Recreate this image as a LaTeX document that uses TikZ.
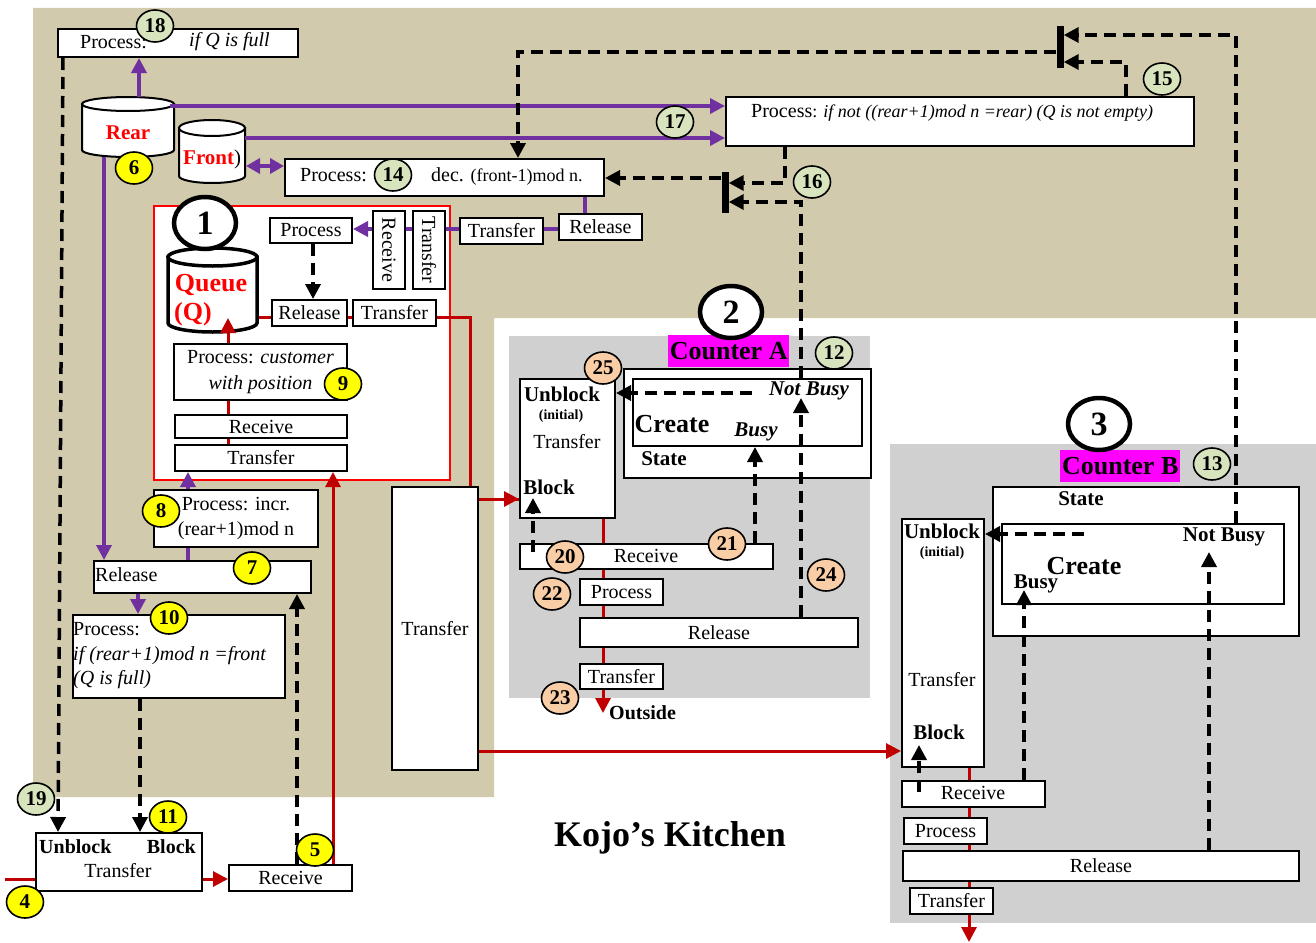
\documentclass[tikz,border=0pt]{standalone}
\usepackage{fontspec}
\setmainfont{Liberation Serif}
\usetikzlibrary{arrows.meta,shapes.geometric,calc}
\pgfdeclarelayer{back}
\pgfdeclarelayer{mid}
\pgfsetlayers{back,mid,main}
\definecolor{tanbg}{HTML}{D2CAAD}
\definecolor{graybg}{HTML}{D0D0D0}
\definecolor{pur}{HTML}{7030A0}
\definecolor{dred}{HTML}{C00000}
\definecolor{ylw}{HTML}{FFFF00}
\definecolor{grn}{HTML}{D7E4BD}
\definecolor{pch}{HTML}{F9CDA5}
\definecolor{mag}{HTML}{FF00FF}
\newcommand\fsz[2]{\fontsize{#1}{#2}\selectfont}
\newcommand\bx[7][]{\node[box,anchor=north west,minimum width={#5-#3},minimum height={#6-#4},#1] (#2) at (#3,#4) {#7};}
\begin{document}
\begin{tikzpicture}[x=1pt,y=-1pt,
 box/.style={draw,line width=2pt,fill=white,inner sep=0pt,font=\fsz{20}{23}},
 txt/.style={inner sep=0pt,font=\fsz{20}{23}},
 btxt/.style={inner sep=0pt,font=\bfseries\fsz{21}{23}},
 badge/.style={ellipse,draw,line width=1.6pt,minimum width=37pt,minimum height=32pt,inner sep=0pt,font=\bfseries\fsz{21}{22}},
 yb/.style={badge,fill=ylw}, gb/.style={badge,fill=grn}, pb/.style={badge,fill=pch},
 bigc/.style={ellipse,draw,line width=4.5pt,fill=white,minimum width=62pt,minimum height=52pt,inner sep=0pt,font=\bfseries\fsz{34}{36}},
 arr/.style={-{Triangle[length=15pt,width=15pt]}},
 dsh/.style={line width=3.5pt,dash pattern=on 12pt off 7pt},
 purl/.style={draw=pur,line width=3.5pt},
 redl/.style={draw=dred,line width=3pt},
 bar/.style={fill=black,minimum width=7pt,inner sep=0pt},
 lab/.style={fill=mag,anchor=north west,inner sep=0pt,font=\bfseries\fsz{26}{28}},
]
\begin{pgfonlayer}{back}
\fill[white] (0,0) rectangle (1316,942);
\fill[tanbg] (33,8) -- (1316,8) -- (1316,318) -- (494,318) -- (494,797) -- (33,797) -- cycle;
\fill[graybg] (509,336) rectangle (870,698);
\fill[graybg] (890,444) rectangle (1316,923);
\end{pgfonlayer}
\useasboundingbox (0,0) rectangle (1316,942);

% coordinates
\coordinate (r1) at (470,317);
\coordinate (r2) at (470,499);
\coordinate (r3) at (477,751);
\coordinate (r4) at (5,879);
\coordinate (r5) at (333,870);
\coordinate (r7) at (603,713);
\coordinate (r8) at (969,942);
\coordinate (qin) at (228,318);
\coordinate (pu1) at (139,97);
\coordinate (pu2) at (170,106);
\coordinate (pu3) at (245,138);
\coordinate (pu4) at (246,166);
\coordinate (pu5) at (104,157);
\coordinate (pu6) at (585,200);
\coordinate (pu7) at (500,229);
\coordinate (pu8) at (188,520);
\coordinate (pu9) at (138,600);
\coordinate (dd1a) at (63,60);
\coordinate (dd1b) at (58,800);
\coordinate (dd2) at (140,760);
\coordinate (dd3) at (297,700);
\coordinate (dd4) at (313,270);
\coordinate (c1) at (1236,35);
\coordinate (c2) at (1126,62);
\coordinate (c3) at (518,52);
\coordinate (c4) at (660,178);
\coordinate (c5) at (785,183);
\coordinate (c6) at (801,202);
\coordinate (nbA) at (801,398);
\coordinate (nbA2) at (752,393);
\coordinate (dA3) at (755,500);
\coordinate (dA4) at (533,552);
\coordinate (dA5) at (533,498);
\coordinate (nbB) at (1209,552);
\coordinate (nbB2) at (1084,534);
\coordinate (dB3) at (1024,590);
\coordinate (dB4) at (919,792);
\coordinate (dB5) at (919,745);

% ---------- top area
\bx{p18}{57}{28}{297}{56}{}
\node[txt,anchor=west] (p18a) at (80,42) {Process:};
\node[txt,anchor=west] (p18b) at (189,42) {\itshape if Q is full};

\bx{p17}{725}{96}{1193}{145}{}
\node[txt,anchor=base west] (p17t) at (751,117) {Process{\fsz{18}{20}: \itshape if not ((rear+1)mod n =rear) (Q is not empty)}};

\bx{p14}{284}{158}{603}{195}{}
\node[txt,anchor=base west] (p14a) at (300,181) {Process:};
\node[txt,anchor=base west] (p14b) at (431,181) {dec. {\fsz{18}{20}(front-1)mod n.}};

\bx{trT}{459}{217}{542}{243}{Transfer}
\bx{relT}{558}{213}{641}{239}{Release}

% cylinders
\filldraw[fill=white,line width=2pt] (82,104) -- (82,150) arc[start angle=180,end angle=360,x radius=46pt,y radius=7pt] -- (174,104) -- cycle;
\filldraw[fill=white,line width=2pt] (128,104) ellipse[x radius=46pt,y radius=7pt];
\node[inner sep=0pt,minimum width=92pt,minimum height=60pt,anchor=north west] (rear) at (82,97) {};
\node[txt,font=\bfseries\fsz{21}{23},text=red] (rearT) at (128,133) {Rear};

\filldraw[fill=white,line width=2pt] (179,128) -- (179,176) arc[start angle=180,end angle=360,x radius=33pt,y radius=7pt] -- (245,128) -- cycle;
\filldraw[fill=white,line width=2pt] (212,128) ellipse[x radius=33pt,y radius=8pt];
\node[inner sep=0pt,minimum width=66pt,minimum height=63pt,anchor=north west] (front) at (179,120) {};
\node[txt,font=\fsz{21}{23},anchor=west] (frontT) at (183,159) {\textcolor{red}{\bfseries Front})};

% ---------- queue box
\filldraw[fill=white,line width=3.5pt] (168,257) -- (168,323) arc[start angle=180,end angle=360,x radius=44.5pt,y radius=9pt] -- (257,257) -- cycle;
\filldraw[fill=white,line width=3.5pt] (212.5,257) ellipse[x radius=44.5pt,y radius=9pt];
\node[inner sep=0pt,minimum width=89pt,minimum height=84pt,anchor=north west] (queue) at (168,248) {};
\node[txt,font=\bfseries\fsz{26}{28},text=red] (qT1) at (211,285) {Queue};
\node[txt,font=\bfseries\fsz{26}{28},text=red] (qT2) at (193,314) {(Q)};

\bx{procI}{269}{217}{351}{242}{Process}
\bx{rcV}{372}{210}{404}{288}{}
\node[txt,rotate=-90] (rcVt) at (rcV.center) {Receive};
\bx{trV}{412}{210}{444}{288}{}
\node[txt,rotate=-90] (trVt) at (trV.center) {Transfer};
\bx{relI}{271}{299}{346}{325}{Release}
\bx{trI2}{352}{299}{435}{325}{Transfer}
\bx[align=center,font=\fsz{20}{26}]{pc}{173}{343}{346}{399}{Process: \textit{customer}\\\textit{with position}}
\bx{rcI}{174}{414}{346}{437}{Receive}
\bx{trI}{174}{444}{346}{470}{Transfer}

% ---------- left column
\bx[align=center,font=\fsz{20}{25}]{pinc}{153}{489}{317}{546}{Process: incr.\\(rear+1)mod n}
\bx{rel7}{93}{560}{310}{592}{}
\node[txt,anchor=west] (rel7t) at (95,575) {Release};
\bx{p10}{72}{614}{284}{697}{}
\node[txt,anchor=base west] (p10a) at (73,635) {Process:};
\node[txt,anchor=base west] (p10b) at (73,660) {\itshape if (rear+1)mod n =front};
\node[txt,anchor=base west] (p10c) at (73,684) {\itshape (Q is full)};
\bx{bigT}{391}{486}{477}{769}{Transfer}

\bx{ubt}{35}{832}{201}{890}{}
\node[txt,font=\bfseries\fsz{20}{23},anchor=base west] (ubt1) at (39,853) {Unblock};
\node[txt,font=\bfseries\fsz{20}{23},anchor=base east] (ubt2) at (196,853) {Block};
\node[txt,anchor=base] (ubt3) at (118,877) {Transfer};
\bx{rcv5}{228}{864}{351}{890}{Receive}

% ---------- counter A
\node[lab,minimum width=121pt,minimum height=32pt] (cA) at (668,335) {Counter A};
\bx{stA}{623}{368}{870}{477}{}
\bx{inA}{632}{378}{861}{445}{}
\node[btxt,font=\bfseries\itshape\fsz{21}{23}] (nbAt) at (809,391) {Not Busy};
\node[btxt,font=\bfseries\fsz{26}{28}] (crA) at (672,424) {Create};
\node[btxt,font=\bfseries\itshape\fsz{21}{23}] (bsA) at (756,432) {Busy};
\node[btxt] (stAt) at (664,459) {State};
\bx{uA}{519}{378}{614}{517}{}
\node[btxt] (uA1) at (562,394) {Unblock};
\node[btxt,font=\bfseries\fsz{14}{16}] (uA2) at (561,416) {(initial)};
\node[txt] (uA3) at (567,442) {Transfer};
\node[btxt] (uA4) at (549,487) {Block};
\bx{rcA}{519}{543}{772}{568}{}
\node[txt] (rcAt) at (646,556) {Receive};
\bx{prA}{579}{578}{662}{604}{Process}
\bx{rlA}{579}{617}{857}{646}{Release}
\bx{tfA}{579}{663}{662}{688}{Transfer}
\node[btxt,font=\bfseries\fsz{20}{23},anchor=west] (outA) at (609,713) {Outside};

% ---------- counter B
\node[lab,minimum width=120pt,minimum height=32pt] (cB) at (1060,450) {Counter B};
\bx{stB}{992}{486}{1298}{635}{}
\node[btxt] (stBt) at (1081,499) {State};
\bx{inB}{1001}{523}{1283}{603}{}
\node[btxt] (nbBt) at (1224,537) {Not Busy};
\node[btxt,font=\bfseries\fsz{26}{28}] (crB) at (1084,566) {Create};
\node[btxt] (bsB) at (1036,584) {Busy};
\bx{uB}{901}{518}{983}{766}{}
\node[btxt] (uB1) at (942,531) {Unblock};
\node[btxt,font=\bfseries\fsz{14}{16}] (uB2) at (942,553) {(initial)};
\node[txt] (uB3) at (942,680) {Transfer};
\node[btxt] (uB4) at (939,732) {Block};
\bx{rcB}{901}{780}{1044}{806}{}
\node[txt] (rcBt) at (973,793) {Receive};
\bx{prB}{903}{817}{986}{843}{Process}
\bx{rlB}{902}{850}{1298}{880}{Release}
\bx{tfB}{909}{887}{992}{913}{Transfer}

\node[inner sep=0pt,font=\bfseries\fsz{36}{40}] (title) at (670,838) {Kojo’s Kitchen};

% gates
\node[bar,minimum height=42pt] (bar1) at (1060,47) {};
\node[bar,minimum height=41pt] (bar2) at (725,192) {};

% ---------- lines behind boxes
\begin{pgfonlayer}{mid}
\node[draw=red,line width=1.5pt,fill=white,anchor=north west,minimum width=296pt,minimum height=274pt,inner sep=0pt] (qbox) at (153,205) {};
\draw[redl] (queue.east |- r1) -- (r1) -- (r2) -- (r2 -| uA.west);
\draw[redl] (qin |- trI.north) -- (qin |- pc.south);
\draw[purl,arr] (relT.west |- pu7) -- (procI.east |- pu7);
\draw[redl,arr] (r7 |- uA.south) -- (r7);
\draw[redl,arr] (r8 |- uB.south) -- (r8);
\end{pgfonlayer}
\draw[redl,arr] ($(r2 -| uA.west)+(-16,0)$) -- (r2 -| uA.west);

% ---------- red lines
\draw[redl,arr] (qin |- pc.north) -- (qin);
\draw[redl] (r4) -- (r4 -| ubt.west);
\draw[redl,arr] (ubt.east |- r4) -- (rcv5.west |- r4);
\draw[redl,arr] (r5 |- rcv5.north) -- (r5 |- trI.south);
\draw[redl,arr] (bigT.east |- r3) -- (uB.west |- r3);

% ---------- purple lines
\draw[purl,arr] (pu1) -- (pu1 |- p18.south);
\draw[purl,arr] (pu2) -- (pu2 -| p17.west);
\draw[purl,arr] (pu3) -- (pu3 -| p17.west);
\draw[purl,{Triangle[length=14pt,width=15pt]}-{Triangle[length=14pt,width=15pt]}] (pu4) -- (pu4 -| p14.west);
\draw[purl,arr] (pu5) -- (pu5 |- rel7.north);
\draw[purl] (pu6 |- p14.south) -- (pu6 |- relT.north);
\draw[purl] (pu8 |- rel7.north) -- (pu8 |- pinc.south);
\draw[purl,arr] (pu8 |- pinc.north) -- (pu8 |- trI.south);
\draw[purl,arr] (pu9 |- rel7.south) -- (pu9 |- p10.north);

% ---------- dashed lines
\draw[dsh,arr] (dd1a |- p18.south) -- (dd1b |- ubt.north);
\draw[dsh,arr] (dd2 |- p10.south) -- (dd2 |- ubt.north);
\draw[dsh,arr] (dd3 |- rcv5.north) -- (dd3 |- rel7.south);
\draw[dsh,arr] (dd4 |- procI.south) -- (dd4 |- relI.north);
\draw[dsh,arr] (c1 |- inB.north) -- (c1) -- (c1 -| bar1.east);
\draw[dsh,arr] (c2 |- p17.north) -- (c2) -- (c2 -| bar1.east);
\draw[dsh,arr] (c3 -| bar1.west) -- (c3) -- (c3 |- p14.north);
\draw[dsh,arr] (c4 -| bar2.west) -- (c4 -| p14.east);
\draw[dsh,arr] (c5 |- p17.south) -- (c5) -- (c5 -| bar2.east);
\draw[dsh,arr] (c6 |- inA.north) -- (c6) -- (c6 -| bar2.east);
\draw[dsh,arr] (nbA |- rlA.north) -- (nbA);
\draw[dsh,arr] (nbA2) -- (nbA2 -| uA.east);
\draw[dsh,arr] (dA3 |- rcA.north) -- (dA3 |- inA.south);
\draw[dsh,arr] (dA4) -- (dA5);
\draw[dsh,arr] (nbB |- rlB.north) -- (nbB);
\draw[dsh,arr] (dB3 |- rcB.north) -- (dB3);
\draw[dsh,arr] (dB4) -- (dB5);
\draw[dsh,arr] (nbB2) -- (nbB2 -| uB.east);

% ---------- big circles
\node[bigc] (k1) at (205,223) {1};
\node[bigc] (k2) at (731,312) {2};
\node[bigc] (k3) at (1099,424) {3};

% ---------- badges
\node[yb] (b4) at (25,902) {4};
\node[yb] (b5) at (315,850) {5};
\node[yb] (b6) at (134,168) {6};
\node[yb] (b7) at (252,568) {7};
\node[yb] (b8) at (161,511) {8};
\node[yb] (b9) at (343,384) {9};
\node[yb] (b10) at (169,618) {10};
\node[yb] (b11) at (168,817) {11};
\node[gb] (b12) at (834,353) {12};
\node[gb] (b13) at (1212,464) {13};
\node[gb] (b14) at (393,175) {14};
\node[gb] (b15) at (1162,79) {15};
\node[gb] (b16) at (812,182) {16};
\node[gb] (b17) at (675,122) {17};
\node[gb] (b18) at (155,26) {18};
\node[gb] (b19) at (36,799) {19};
\node[pb] (b20) at (565,557) {20};
\node[pb] (b21) at (727,544) {21};
\node[pb] (b22) at (552,594) {22};
\node[pb] (b23) at (560,698) {23};
\node[pb] (b24) at (826,575) {24};
\node[pb] (b25) at (603,368) {25};
\end{tikzpicture}
\end{document}
